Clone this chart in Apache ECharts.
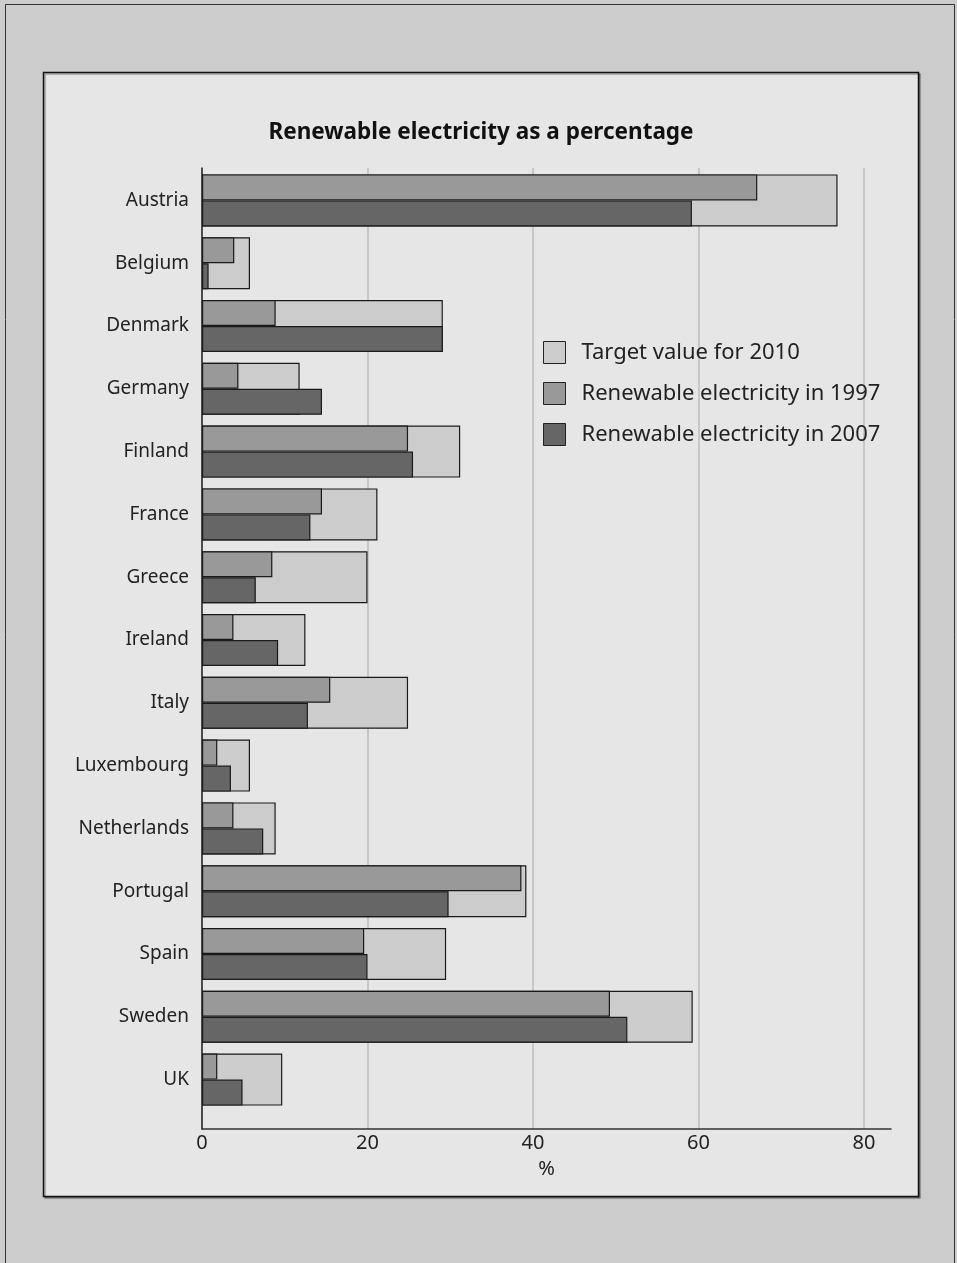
<!DOCTYPE html>
<html>
<head>
<meta charset="utf-8">
<title>Renewable electricity as a percentage</title>
<script src="https://cdn.jsdelivr.net/npm/echarts@6/dist/echarts.min.js"></script>
<style>
  html, body { margin: 0; padding: 0; background: #cccccc; }
  #main { width: 957px; height: 1263px; }
</style>
</head>
<body>
<div id="main"></div>
<script>
// data
var countries = ['Austria', 'Belgium', 'Denmark', 'Germany', 'Finland', 'France', 'Greece', 'Ireland',
  'Italy', 'Luxembourg', 'Netherlands', 'Portugal', 'Spain', 'Sweden', 'UK'];
var target2010 = [76.8, 5.8, 29.1, 11.8, 31.2, 21.2, 20.0, 12.5, 24.9, 5.8, 8.9, 39.2, 29.5, 59.3, 9.7];
var renew1997 = [67.1, 3.9, 8.9, 4.4, 24.9, 14.5, 8.5, 3.8, 15.5, 1.85, 3.8, 38.6, 19.6, 49.3, 1.85];
var renew2007 = [59.2, 0.8, 29.1, 14.5, 25.5, 13.1, 6.5, 9.2, 12.8, 3.5, 7.4, 29.8, 20.0, 51.4, 4.9];
var seriesNames = ['Target value for 2010', 'Renewable electricity in 1997', 'Renewable electricity in 2007'];
var xMin = 0, xMax = 83.26, xStep = 20;

var font = 'Noto Sans';
var chart = echarts.init(document.getElementById('main'), null, { renderer: 'canvas' });

var barBorder = { borderColor: '#1a1a1a', borderWidth: 1.2 };

chart.setOption({
  backgroundColor: '#cccccc',
  animation: false,
  textStyle: { fontFamily: font },
  graphic: [
    { //外框
      type: 'rect', z: -20, silent: true,
      shape: { x: 5.5, y: 4.5, width: 949, height: 1300 },
      style: { fill: '#cccccc', stroke: '#333', lineWidth: 1 }
    },
    { //内框
      type: 'rect', z: -10, silent: true,
      shape: { x: 43.5, y: 72.5, width: 875, height: 1124 },
      style: { fill: '#e6e6e6', stroke: '#111', lineWidth: 1.5,
        shadowColor: 'rgba(0,0,0,0.35)', shadowOffsetX: 1.5, shadowOffsetY: 1.5, shadowBlur: 1 }
    }
  ],
  title: {
    text: 'Renewable electricity as a percentage',
    left: 476, top: 116, textAlign: 'center',
    textStyle: { fontFamily: font, fontSize: 22.5, fontWeight: 'bold', color: '#111' }
  },
  legend: {
    data: seriesNames,
    orient: 'vertical',
    left: 538, top: 336,
    itemWidth: 22, itemHeight: 22, itemGap: 18,
    icon: 'rect',
    itemStyle: { borderColor: '#222', borderWidth: 1 },
    textStyle: { fontFamily: font, fontSize: 22, color: '#222', padding: [0, 0, 0, 11] }
  },
  grid: [
    // axis frame, reaches down to the x axis line
    { left: 202, top: 168, width: 689, height: 961 },
    // bar area
    { left: 202, top: 169, width: 689, height: 942 }
  ],
  xAxis: [
    {
      gridIndex: 0, type: 'value', min: xMin, max: xMax, interval: xStep,
      name: '%', nameLocation: 'middle', nameGap: 30,
      nameTextStyle: { fontFamily: font, fontSize: 20, color: '#222' },
      axisLine: { show: true, lineStyle: { color: '#333', width: 1.5 } },
      axisTick: { show: false },
      axisLabel: { fontFamily: font, fontSize: 20, color: '#222', margin: 4, showMaxLabel: false },
      splitLine: { show: true, showMaxLine: false, lineStyle: { color: '#bdbdbd', width: 1.5 } }
    },
    { gridIndex: 1, type: 'value', min: xMin, max: xMax, show: false }
  ],
  yAxis: [
    {
      gridIndex: 0, type: 'value', min: 0, max: 1,
      axisLine: { show: true, lineStyle: { color: '#222', width: 1.5 } },
      axisTick: { show: false }, axisLabel: { show: false }, splitLine: { show: false }
    },
    {
      gridIndex: 1, type: 'category', data: countries, inverse: true,
      axisLine: { show: false }, axisTick: { show: false },
      axisLabel: { fontFamily: font, fontSize: 19, color: '#222', margin: 13 }
    },
    {
      gridIndex: 1, type: 'category', data: countries, inverse: true, show: false, position: 'right'
    }
  ],
  series: [
    { //目标值，整个类目高度
      name: seriesNames[0], type: 'bar', xAxisIndex: 1, yAxisIndex: 2,
      data: target2010, barWidth: 52, z: 1,
      itemStyle: Object.assign({ color: '#cccccc' }, barBorder)
    },
    {
      name: seriesNames[1], type: 'bar', xAxisIndex: 1, yAxisIndex: 1,
      data: renew1997, barWidth: 26, barGap: '0%', z: 2,
      itemStyle: Object.assign({ color: '#999999' }, barBorder)
    },
    {
      name: seriesNames[2], type: 'bar', xAxisIndex: 1, yAxisIndex: 1,
      data: renew2007, barWidth: 26, barGap: '0%', z: 2,
      itemStyle: Object.assign({ color: '#666666' }, barBorder)
    }
  ]
});
</script>
</body>
</html>
